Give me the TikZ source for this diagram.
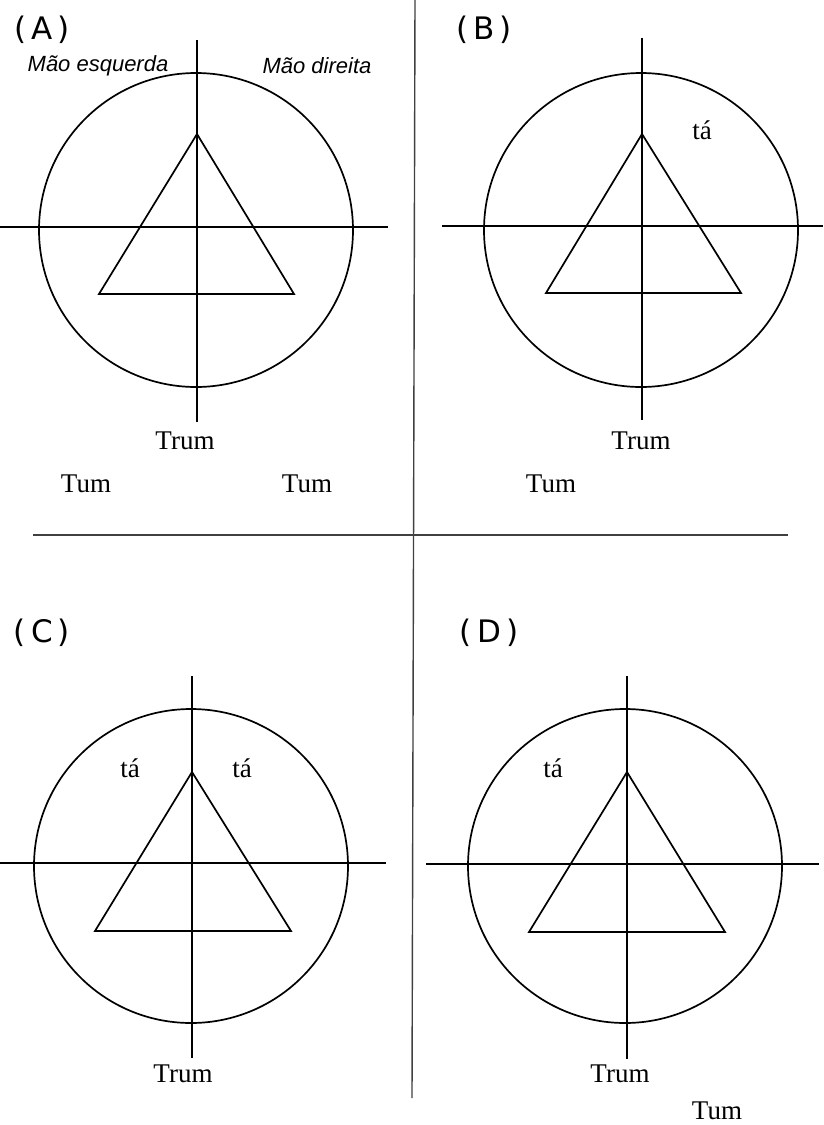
\documentclass[tikz,border=0pt]{standalone}
\usepackage{fontspec}
\setmainfont{Liberation Serif}
\newfontfamily\labfont{DejaVu Sans}
\newfontfamily\handfont{Liberation Sans}
\begin{document}
\begin{tikzpicture}[x=1pt,y=-1pt,
  ln/.style={line width=1.7pt,black},
  divline/.style={line width=1.4pt,black!75},
  plabel/.style={inner sep=0pt,font=\labfont\fontsize{31}{34}\selectfont},
  hand/.style={inner sep=0pt,font=\handfont\itshape\fontsize{22}{25}\selectfont},
  word/.style={inner sep=0pt,font=\fontsize{27}{30}\selectfont}]
\useasboundingbox (0,0) rectangle (823,1125);
\fill[white] (0,0) rectangle (823,1125);
% dividers
\coordinate (dvT) at (415,0);
\coordinate (dvB) at (412,1098);
\coordinate (dhL) at (33,535);
\coordinate (dhR) at (788,535);
\draw[divline] (dvT) -- (dvB);
\draw[divline] (dhL) -- (dhR);
% ---------- Panel A ----------
\coordinate (Ac) at (196,230);
\coordinate (AvT) at (197,40); \coordinate (AvB) at (197,422);
\coordinate (AhL) at (0,227); \coordinate (AhR) at (388,227);
\coordinate (At1) at (197,134); \coordinate (At2) at (99,294); \coordinate (At3) at (294,294);
\draw[ln] (Ac) circle[radius=157];
\draw[ln] (AvT) -- (AvB);
\draw[ln] (AhL) -- (AhR);
\draw[ln,line join=miter] (At1) -- (At2) -- (At3) -- cycle;
\node[plabel] (Alab) at (42,30) {(\,A\,)};
\node[hand] (Ale) at (98,66) {Mão esquerda};
\node[hand] (Ald) at (317,66) {Mão direita};
\node[word] (Atr) at (185,441) {Trum};
\node[word] (Atu1) at (86,484) {Tum};
\node[word] (Atu2) at (307,484) {Tum};
% ---------- Panel B ----------
\coordinate (Bc) at (641,230);
\coordinate (BvT) at (642,38); \coordinate (BvB) at (642,420);
\coordinate (BhL) at (442,226); \coordinate (BhR) at (823,226);
\coordinate (Bt1) at (642,134); \coordinate (Bt2) at (546,293); \coordinate (Bt3) at (741,293);
\draw[ln] (Bc) circle[radius=157];
\draw[ln] (BvT) -- (BvB);
\draw[ln] (BhL) -- (BhR);
\draw[ln,line join=miter] (Bt1) -- (Bt2) -- (Bt3) -- cycle;
\node[plabel] (Blab) at (484,30) {(\,B\,)};
\node[word] (Bta) at (702,130) {tá};
\node[word] (Btr) at (641,441) {Trum};
\node[word] (Btu) at (551,484) {Tum};
% ---------- Panel C ----------
\coordinate (Cc) at (191,866);
\coordinate (CvT) at (192,676); \coordinate (CvB) at (192,1058);
\coordinate (ChL) at (0,863); \coordinate (ChR) at (386,863);
\coordinate (Ct1) at (192,772); \coordinate (Ct2) at (95,931); \coordinate (Ct3) at (291,931);
\draw[ln] (Cc) circle[radius=157];
\draw[ln] (CvT) -- (CvB);
\draw[ln] (ChL) -- (ChR);
\draw[ln,line join=miter] (Ct1) -- (Ct2) -- (Ct3) -- cycle;
\node[plabel] (Clab) at (42,633) {(\,C\,)};
\node[word] (Cta1) at (130,768) {tá};
\node[word] (Cta2) at (242,768) {tá};
\node[word] (Ctr) at (183,1074) {Trum};
% ---------- Panel D ----------
\coordinate (Dc) at (625,866);
\coordinate (DvT) at (627,676); \coordinate (DvB) at (627,1059);
\coordinate (DhL) at (426,864); \coordinate (DhR) at (819,864);
\coordinate (Dt1) at (627,772); \coordinate (Dt2) at (529,932); \coordinate (Dt3) at (725,932);
\draw[ln] (Dc) circle[radius=157];
\draw[ln] (DvT) -- (DvB);
\draw[ln] (DhL) -- (DhR);
\draw[ln,line join=miter] (Dt1) -- (Dt2) -- (Dt3) -- cycle;
\node[plabel] (Dlab) at (489,633) {(\,D\,)};
\node[word] (Dta) at (553,768) {tá};
\node[word] (Dtr) at (620,1074) {Trum};
\node[word] (Dtu) at (717,1111) {Tum};
\end{tikzpicture}
\end{document}
